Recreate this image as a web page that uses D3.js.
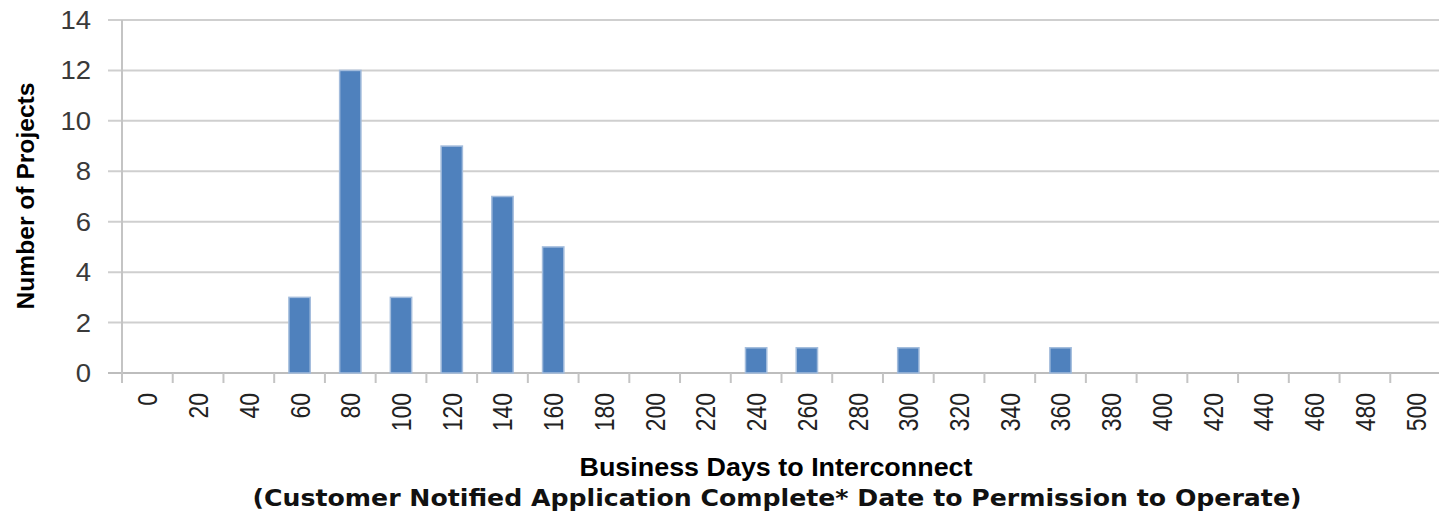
<!DOCTYPE html>
<html>
<head>
<meta charset="utf-8">
<script src="https://cdn.jsdelivr.net/npm/d3@7"></script>
<style>
  html, body { margin: 0; padding: 0; background: #fff; }
  svg { display: block; }
</style>
</head>
<body>
<svg id="chart" width="1439" height="511"></svg>
<script>
const categories = [0,20,40,60,80,100,120,140,160,180,200,220,240,260,280,300,320,340,360,380,400,420,440,460,480,500];
const projectCounts = [0,0,0,3,12,3,9,7,5,0,0,0,1,1,0,1,0,0,1,0,0,0,0,0,0,0];
const yTicks = [0,2,4,6,8,10,12,14];
const xTitle = "Business Days to Interconnect";
const xSubtitle = "(Customer Notified Application Complete* Date to Permission to Operate)";
const yTitle = "Number of Projects";

(function () {
const svg = d3.select("#chart");
const pLeft = 122, pRight = 1441, pTop = 20, pBottom = 373;

const x = d3.scaleBand().domain(categories).range([pLeft, pRight]).paddingInner(0.58).paddingOuter(0.29);
const xEdge = d3.scaleLinear().domain([0, categories.length]).range([pLeft, pRight]);
const y = d3.scaleLinear().domain([0, 14]).range([pBottom, pTop]);

// gridlines
svg.append("g").selectAll("line").data(yTicks).join("line")
  .attr("x1", 108).attr("x2", 1439)
  .attr("y1", d => y(d)).attr("y2", d => y(d))
  .attr("stroke", d => d === 0 ? "#bdbdbd" : "#cfcfcf").attr("stroke-width", 2);

// y axis line
svg.append("line").attr("x1", pLeft).attr("x2", pLeft).attr("y1", pTop).attr("y2", pBottom + 10)
  .attr("stroke", "#c4c4c4").attr("stroke-width", 2);

// x tick marks at band edges
svg.append("g").selectAll("line").data(d3.range(1, categories.length)).join("line")
  .attr("x1", d => xEdge(d)).attr("x2", d => xEdge(d))
  .attr("y1", pBottom).attr("y2", pBottom + 10)
  .attr("stroke", "#c4c4c4").attr("stroke-width", 2);

// y tick labels
svg.append("g").selectAll("text").data(yTicks).join("text")
  .attr("transform", d => `translate(91,${y(d)}) scale(1.1,1)`)
  .attr("dy", "0.36em")
  .attr("text-anchor", "end")
  .attr("font-family", "Liberation Sans, Arial, sans-serif")
  .attr("font-size", 25).attr("fill", "#3a3a3a")
  .text(d => d);

// bars
svg.append("g").selectAll("rect").data(categories.map((c, i) => ({c, v: projectCounts[i]})).filter(d => d.v > 0)).join("rect")
  .attr("x", d => x(d.c)).attr("width", x.bandwidth())
  .attr("y", d => y(d.v)).attr("height", d => y(0) - y(d.v))
  .attr("fill", "#4F81BD").attr("stroke", "#a3bcdc").attr("stroke-width", 1.5);

// x tick labels (rotated)
svg.append("g").selectAll("text").data(categories).join("text")
  .attr("transform", d => `translate(${x(d) + x.bandwidth() / 2},393) rotate(-90) scale(1,1.2)`)
  .attr("text-anchor", "end").attr("dy", "0.36em")
  .attr("font-family", "Liberation Sans, Arial, sans-serif")
  .attr("font-size", 23).attr("fill", "#222")
  .text(d => d);

// x title
svg.append("text").attr("x", 776).attr("y", 476).attr("text-anchor", "middle")
  .attr("font-family", "Liberation Sans, Arial, sans-serif").attr("font-weight", "bold")
  .attr("font-size", 25).attr("fill", "#000")
  .attr("textLength", 393).attr("lengthAdjust", "spacingAndGlyphs")
  .text(xTitle);

svg.append("text").attr("x", 777).attr("y", 506).attr("text-anchor", "middle")
  .attr("font-family", "DejaVu Sans, Verdana, sans-serif").attr("font-weight", "bold")
  .attr("font-size", 23).attr("fill", "#111")
  .attr("textLength", 1049).attr("lengthAdjust", "spacingAndGlyphs")
  .text(xSubtitle);

// y title
svg.append("text").attr("transform", "translate(34,196) rotate(-90)").attr("text-anchor", "middle")
  .attr("font-family", "Liberation Sans, Arial, sans-serif").attr("font-weight", "bold")
  .attr("font-size", 24).attr("fill", "#000")
  .attr("textLength", 227).attr("lengthAdjust", "spacingAndGlyphs")
  .text(yTitle);
})();
</script>
</body>
</html>
